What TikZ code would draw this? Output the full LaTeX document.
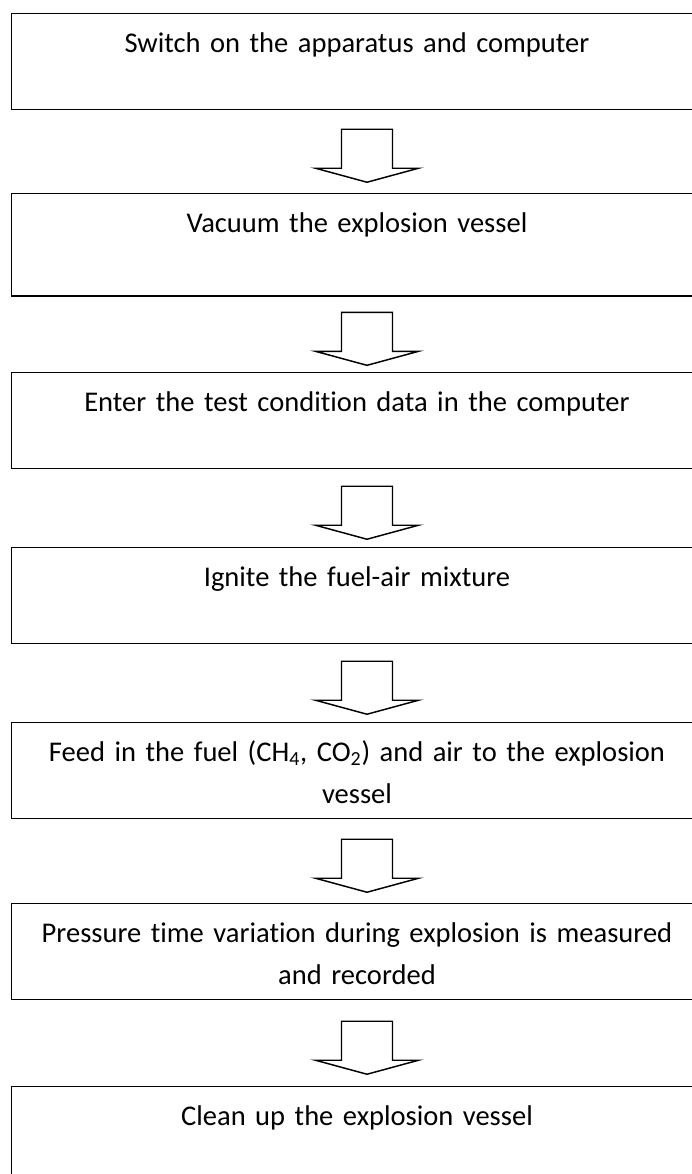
\documentclass[tikz,border=0pt]{standalone}
\usepackage{fontspec}
\setmainfont{Carlito}[Ligatures=NoCommon]
\usetikzlibrary{calc}

\begin{document}
\begin{tikzpicture}[x=0.75pt,y=0.75pt,
    stepbox/.style={draw, line width=1.1pt, anchor=north, inner sep=0pt,
      minimum width=518.25pt, minimum height=72pt, text width=510pt, align=center,
      text height=29.25pt, text depth=42.75pt, font=\fontsize{21.4pt}{31.3pt}\selectfont},
    blockdown/.pic={\draw[line width=1.1pt] (-25.5,0) -- (25.5,0) -- (25.5,-39) -- (51.5,-39)
      -- (0,-53) -- (-51.5,-39) -- (-25.5,-39) -- cycle;}]
    \useasboundingbox (0,0) rectangle (692,-1174);
    \clip (0,0) rectangle (692,-1174);
    \node[stepbox] (b1) at (357,-12.5) {Switch on the apparatus and computer};
    \node[stepbox, minimum height=77pt, text depth=47.75pt] (b2) at (357,-192.5) {Vacuum the explosion vessel};
    \node[stepbox] (b3) at (357,-372) {Enter the test condition data in the computer};
    \node[stepbox] (b4) at (357,-547) {Ignite the fuel-air mixture};
    \node[stepbox] (b5) at (357,-722) {Feed in the fuel (CH\textsubscript{4}, CO\textsubscript{2}) and air to the explosion\\ vessel};
    \node[stepbox] (b6) at (357,-903) {Pressure time variation during explosion is measured\\ and recorded};
    \node[stepbox] (b7) at (357,-1086) {Clean up the explosion vessel};
    \path ($(b1.south)!0.5!(b2.north)+(10,22)$) pic {blockdown};
    \path ($(b2.south)!0.5!(b3.north)+(10,22)$) pic {blockdown};
    \path ($(b3.south)!0.5!(b4.north)+(10,22)$) pic {blockdown};
    \path ($(b4.south)!0.5!(b5.north)+(10,22)$) pic {blockdown};
    \path ($(b5.south)!0.5!(b6.north)+(10,22)$) pic {blockdown};
    \path ($(b6.south)!0.5!(b7.north)+(10,22)$) pic {blockdown};
\end{tikzpicture}
\end{document}
